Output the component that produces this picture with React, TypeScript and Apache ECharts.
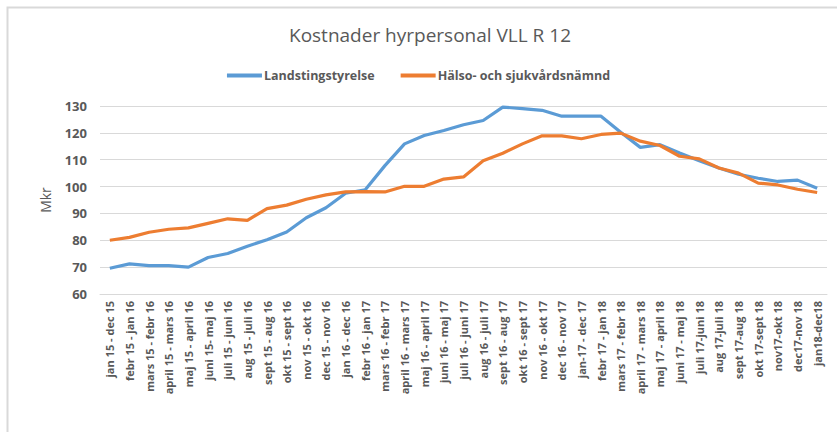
import React, { useEffect, useRef } from "react";
import * as echarts from "echarts";

const categories = [
  "jan 15 - dec 15", "febr 15 - jan 16", "mars 15 - febr 16", "april 15 - mars 16",
  "maj 15 - april 16", "juni 15- maj 16", "juli 15 - juni 16", "aug 15 - juli 16",
  "sept 15 - aug 16", "okt 15 - sept 16", "nov 15 - okt 16", "dec 15 - nov 16",
  "jan 16 - dec 16", "febr 16 - jan 17", "mars 16 - febr 17", "april 16 - mars 17",
  "maj 16 - april 17", "juni 16 - maj 17", "juli 16 - juni 17", "aug 16 - juli 17",
  "sept 16 - aug 17", "okt 16 - sept 17", "nov 16 - okt 17", "dec 16 - nov 17",
  "jan-17 - dec 17", "febr 17 - jan 18", "mars 17 - febr 18", "april 17 - mars 18",
  "maj 17 - april 18", "juni 17 - maj 18", "juli 17-juni 18", "aug 17-juli 18",
  "sept 17-aug 18", "okt 17-sept 18", "nov17-okt 18", "dec17-nov 18", "jan18-dec18",
];

const landstingstyrelse = [
  69.6, 71.2, 70.6, 70.6, 70.0, 73.6, 75.1, 77.8, 80.2, 83.1,
  88.4, 92.1, 97.5, 98.8, 107.8, 115.9, 119.0, 120.9, 123.0, 124.6,
  129.6, 129.0, 128.4, 126.2, 126.2, 126.2, 120.2, 114.6, 115.6, 112.5,
  109.6, 106.9, 104.6, 103.1, 101.9, 102.4, 99.4,
];

const halsoOchSjukvard = [
  80.0, 81.1, 83.0, 84.1, 84.6, 86.3, 88.0, 87.4, 91.8, 93.1,
  95.3, 96.9, 98.0, 98.1, 98.0, 100.1, 100.1, 102.8, 103.6, 109.6,
  112.4, 115.9, 118.9, 118.9, 117.8, 119.4, 119.9, 116.9, 115.3, 111.3,
  110.3, 106.9, 105.0, 101.3, 100.6, 99.0, 97.8,
];

const seriesNames = ["Landstingstyrelse", "Hälso- och sjukvårdsnämnd"];
const title = "Kostnader hyrpersonal VLL R 12";

export default function App() {
  const ref = useRef<HTMLDivElement>(null);
  useEffect(() => {
    if (!ref.current) return;
    const chart = echarts.init(ref.current, undefined, { renderer: "svg" });
    const font = "'Open Sans', 'Noto Sans', sans-serif";
    chart.setOption({
      animation: false,
      backgroundColor: "#ffffff",
      textStyle: { fontFamily: font },
      graphic: [
        {
          type: "rect",
          shape: { x: 7.5, y: 7.5, width: 900, height: 500 },
          style: { fill: "none", stroke: "#d9d9d9", lineWidth: 2 },
          silent: true,
        },
      ],
      title: {
        text: title,
        left: 425,
        textAlign: "center",
        top: 20,
        textStyle: { fontFamily: font, fontSize: 19, fontWeight: "normal", color: "#595959" },
      },
      legend: {
        top: 64,
        left: "center",
        icon: "rect",
        itemWidth: 35,
        itemHeight: 4,
        itemGap: 26,
        textStyle: { fontFamily: font, fontSize: 12.5, fontWeight: "bold", color: "#595959", padding: [0, 0, 0, -3] },
        data: seriesNames,
      },
      grid: { left: 100, right: 10, top: 106, bottom: 138 },
      xAxis: {
        type: "category",
        data: categories,
        boundaryGap: true,
        axisLine: { show: true, lineStyle: { color: "#d9d9d9", width: 1 } },
        axisTick: { show: false },
        axisLabel: {
          interval: 0,
          rotate: 90,
          margin: 7,
          fontFamily: font,
          fontSize: 11,
          fontWeight: "bold",
          color: "#595959",
        },
      },
      yAxis: {
        type: "value",
        min: 60,
        max: 130,
        interval: 10,
        name: "Mkr",
        nameLocation: "middle",
        nameGap: 48,
        nameTextStyle: { fontFamily: font, fontSize: 14, color: "#595959" },
        axisLine: { show: false },
        axisTick: { show: false },
        axisLabel: { margin: 13, fontFamily: font, fontSize: 13, fontWeight: "bold", color: "#595959" },
        splitLine: { lineStyle: { color: "#d9d9d9", width: 1 } },
      },
      series: [
        {
          name: seriesNames[0],
          type: "line",
          data: landstingstyrelse,
          showSymbol: false,
          symbol: "none",
          lineStyle: { color: "#5B9BD5", width: 3.2 },
          itemStyle: { color: "#5B9BD5" },
        },
        {
          name: seriesNames[1],
          type: "line",
          data: halsoOchSjukvard,
          showSymbol: false,
          symbol: "none",
          lineStyle: { color: "#ED7D31", width: 3.2 },
          itemStyle: { color: "#ED7D31" },
        },
      ],
    });
    return () => chart.dispose();
  }, []);
  return (
    <div
      ref={ref}
      style={{ position: "absolute", left: 0, top: 0, width: 837, height: 432 }}
    />
  );
}
